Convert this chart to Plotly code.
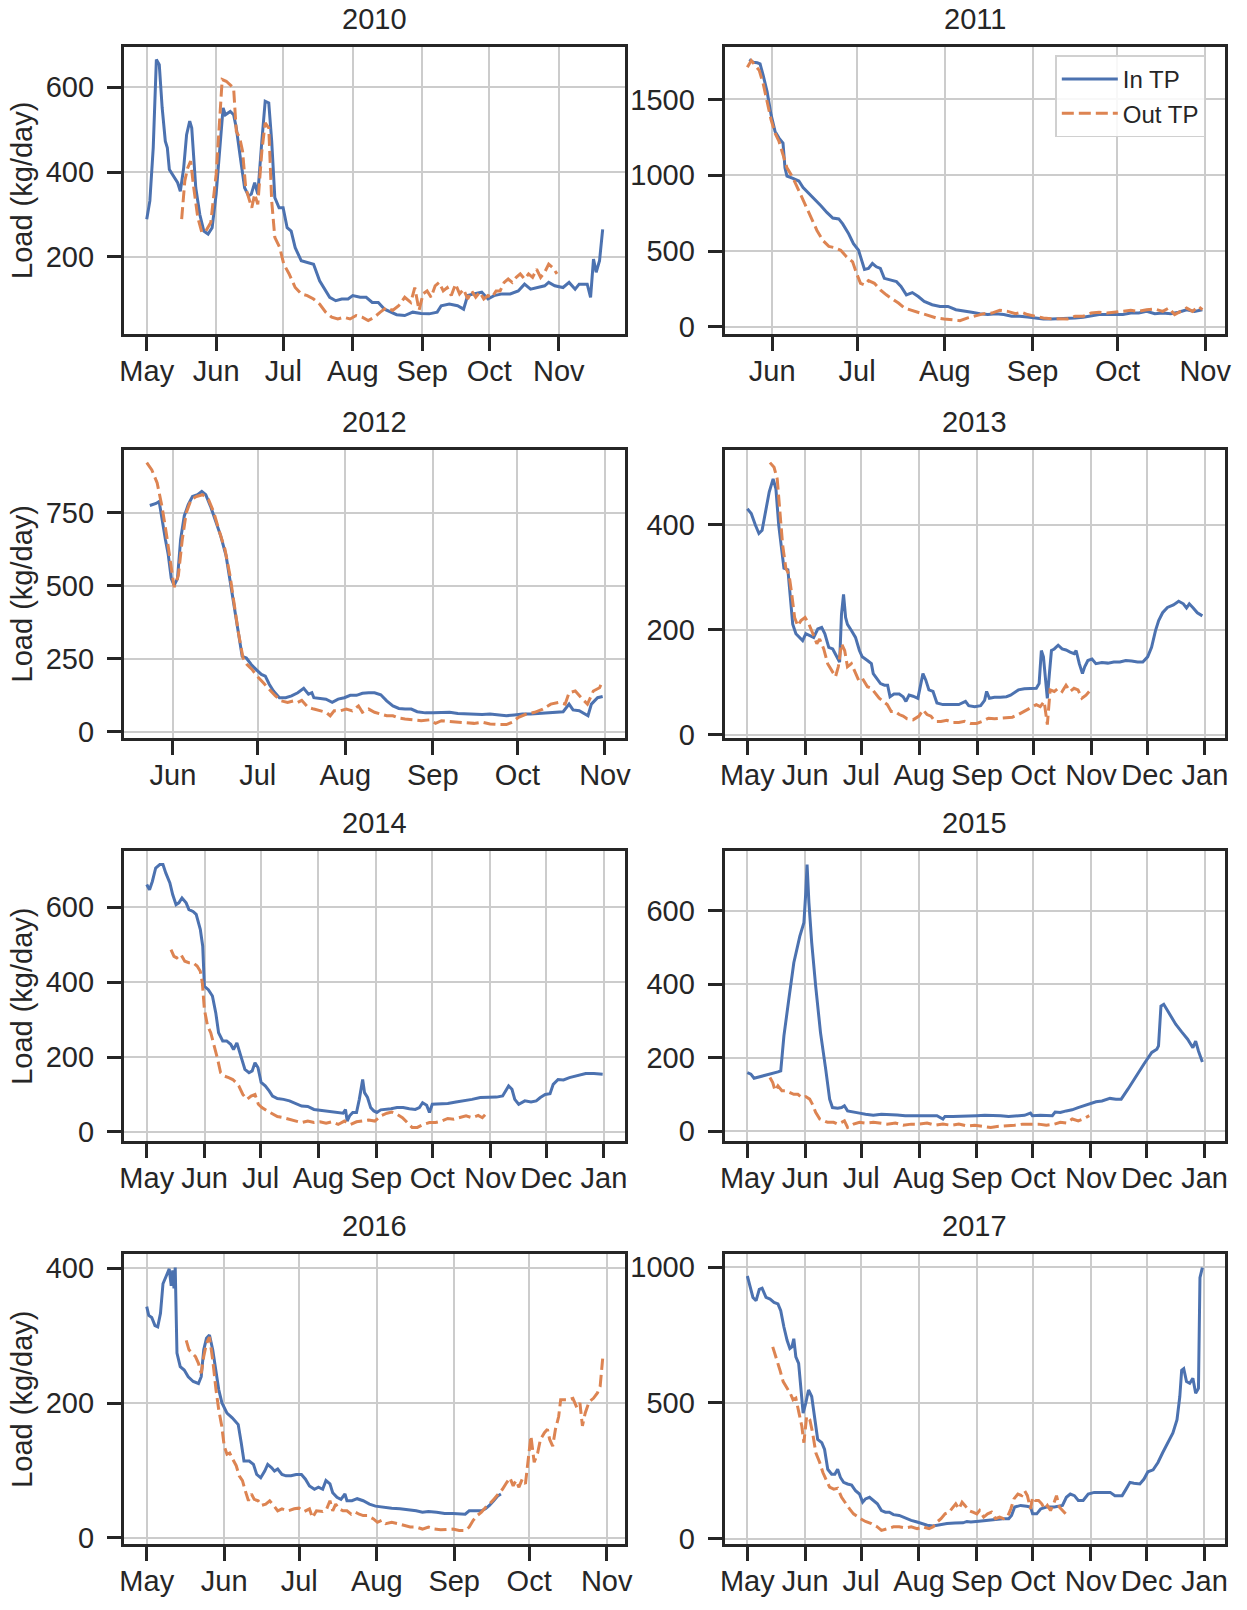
import pandas as pd
import plotly.graph_objects as go

# ---------------- data: (days since May 1, load kg/day) ----------------
in_2010 = [(0,289),(1.4,332),(2.9,457),(4.3,665),(5.6,653),(6.9,551),(8.3,473),(9.2,457),(10.1,406),(12,391),
           (13.8,375),(15,355),(16.5,410),(17.8,488),(19.2,520),(20.1,504),(21.9,363),(23.7,300),(25.5,261),(27.4,254),
           (29.2,269),(31,348),(32.8,473),(34.1,551),(35.1,535),(37.3,543),(38.8,535),(40,504),(41.8,434),(43.7,363),
           (45.5,344),(46.7,348),(48.2,375),(49.6,348),(51.4,473),(52.9,567),(54.5,563),(55.8,473),(57.2,340),(59.1,316),
           (60.9,316),(62.7,269),(64.5,261),(66.3,222),(69,191),(71.7,187),(74.5,183),(77.2,144),(79.9,120),(81.7,105),
           (84.4,97),(87.1,101),(89.9,101),(92,109),(95.3,105),(98,105),(100.7,93),(103.4,93),(106.2,77),(108.9,70),
           (111.6,64),(115.2,62),(118.8,70),(122.5,67),(126.1,66),(129.7,70),(131.5,85),(135.1,89),(138.8,85),(141.5,77),
           (143.3,109),(146,113),(149.6,117),(152.4,101),(155.1,109),(158.7,113),(162.3,113),(165.9,120),(168.7,136),(171.4,124),
           (175,128),(177.7,132),(179.5,140),(182.2,132),(185.9,128),(188.6,140),(191.3,124),(193.1,136),(196.7,136),(198.2,105),
           (199.5,195),(200.7,164),(202.2,191),(203.6,265)]
out_2010 = [(15.6,289),(17,379),(18.3,410),(19.6,426),(21,363),(22.8,293),(24.6,258),(26.4,261),(28.6,281),(31,395),
            (32.8,543),(33.7,618),(35.5,614),(37.3,606),(38.8,598),(40,496),(41.5,481),(42.8,449),(44.2,363),(45.5,340),
            (46.9,316),(48.2,348),(49.6,324),(51.4,449),(52.9,516),(54.5,504),(55.8,332),(57.2,246),(59.4,222),(61.2,183),
            (63.6,160),(66.3,128),(69,113),(71.7,109),(74.5,101),(77.2,89),(79.9,70),(82.6,58),(85.3,54),(88,58),
            (90.8,54),(93.5,62),(96.2,58),(98.9,50),(101.6,58),(104.3,70),(107.1,81),(109.8,74),(112.5,85),(115.2,105),
            (117.9,93),(119.7,128),(121.6,74),(123.4,113),(125.2,120),(127,105),(128.8,132),(130.6,140),(132.4,120),(134.2,128),
            (136,109),(137.9,136),(139.7,113),(141.5,124),(143.3,101),(145.1,120),(146.9,105),(148.7,117),(150.5,101),(152.4,109),
            (154.2,105),(156,120),(157.8,120),(159.6,140),(161.4,148),(163.2,140),(165,152),(166.8,160),(168.7,148),(170.5,160),
            (172.3,152),(174.1,171),(175.9,152),(177.7,164),(179.5,183),(181.3,175),(183.2,160)]

in_2011 = [(22.9,1763),(24.3,1746),(25.7,1742),(26.7,1735),(27.8,1659),(29.2,1550),(30.6,1398),(32,1289),(33.4,1245),(34.8,1213),
           (35.5,1049),(36.2,995),(38.3,980),(40.4,962),(41.9,919),(44,880),(46.1,843),(48.2,799),(50.3,755),(52.4,718),
           (54.5,712),(55.9,679),(58,614),(59.7,549),(61.5,505),(62.5,440),(63.6,379),(65,385),(66.4,418),(67.8,396),
           (69.2,385),(70.6,320),(72.8,309),(74.9,298),(76.5,266),(78.4,211),(80.5,226),(82.6,200),(84.7,168),(87.5,146),
           (90.3,135),(93.1,135),(95.9,113),(98.7,102),(101.5,96),(104.4,87),(107.2,81),(110,87),(112.8,81),(115.6,70),
           (118.4,70),(121.2,65),(124,59),(126.8,52),(129.6,52),(132.4,54),(135.3,54),(138,59),(140.9,63),(143.7,74),
           (146.5,81),(149.3,81),(152.1,81),(154.9,81),(157.7,91),(160.5,91),(163.3,102),(166.2,87),(169,91),(171.8,87),
           (174.6,96),(177.4,113),(180.2,102),(183,113)]
out_2011 = [(22.2,1713),(23.6,1757),(25,1724),(26.4,1692),(27.8,1604),(29.2,1485),(30.6,1365),(32,1278),(33.4,1223),(34.8,1136),
            (36.2,1049),(38.3,984),(40.4,897),(42.6,810),(44.7,723),(46.8,636),(48.9,570),(51,531),(53.1,522),(55.2,505),
            (57.3,461),(59.4,429),(60.8,353),(62.2,287),(63.6,276),(65,305),(67.1,287),(69.2,244),(71.3,211),(73.5,183),
            (75.6,157),(77.7,124),(80.5,107),(83.3,91),(86.1,74),(88.9,59),(91.7,52),(94.5,48),(97.3,41),(100.1,59),
            (102.9,74),(105.8,87),(108.6,91),(111.4,109),(114.2,102),(117,87),(119.1,96),(121.2,81),(124,70),(126.8,59),
            (129.6,54),(132.4,54),(135.3,52),(138,70),(140.9,70),(143.7,91),(146.5,96),(149.3,91),(152.1,98),(154.9,102),
            (157.7,109),(160.5,102),(163.3,113),(166.2,118),(169,102),(171.1,124),(173.2,81),(175.3,102),(177.4,124),(179.5,102),
            (181.6,135),(183,113)]

in_2012 = [(22.8,775),(25,782),(26.1,789),(27.1,727),(28.3,659),(29.3,608),(30.4,524),(31.4,501),(32.6,524),(33.7,659),
           (35,739),(36.4,778),(37.9,806),(39.7,812),(41.2,823),(42.6,812),(44.3,772),(46.1,722),(47.9,671),(49.8,603),
           (51.2,518),(52.7,433),(54.1,343),(55.5,258),(57,252),(58.7,230),(60.4,213),(62.3,196),(63.7,190),(65.1,162),
           (66.6,139),(68.7,116),(70.9,116),(73,122),(75.2,133),(77.3,148),(79,128),(80.2,133),(80.9,116),(83.1,114),
           (85.2,111),(87.4,100),(89.5,111),(91.7,116),(93.8,124),(96,124),(98.1,131),(100.3,133),(102.4,133),(104.6,126),
           (106.7,105),(108.9,88),(111,79),(113.2,77),(115.4,77),(117.5,68),(120.4,64),(123.2,64),(126.1,64),(129,66),
           (131.9,62),(134.7,60),(137.6,60),(140.5,58),(143.3,60),(146.2,57),(149.1,54),(151.9,57),(154.8,60),(157.7,60),
           (160.5,62),(163.4,64),(166.3,64),(169.2,68),(171.3,94),(172.7,74),(174.9,71),(177,60),(178,54),(179.2,94),
           (181.4,116),(183.2,120)]
out_2012 = [(21.7,922),(23.5,897),(25.4,852),(27.1,772),(28.6,682),(30,580),(31.4,495),(32.9,535),(34.3,659),(35.7,750),
            (37.4,795),(39.3,806),(41.5,812),(43.6,795),(45.5,750),(47.2,693),(49.4,625),(51.2,535),(52.7,433),(54.1,343),
            (55.8,252),(57.2,230),(59,213),(60.8,190),(63,167),(65.1,145),(67.3,122),(69.4,105),(71.6,100),(73.7,105),
            (75.2,100),(76.6,107),(78.8,83),(80.9,77),(83.1,71),(85.2,66),(86.7,54),(88.1,71),(90.2,71),(92.4,77),
            (94.5,71),(96.7,88),(98.1,66),(100.3,77),(102.4,66),(104.6,60),(106.7,54),(108.9,54),(111,46),(113.2,43),
            (116.1,40),(118.9,37),(121.8,40),(124,28),(126.1,37),(129,35),(131.9,32),(134.7,32),(137.6,28),(140.5,32),
            (143.3,26),(146.2,24),(149.1,24),(151.2,32),(153.4,49),(156.2,60),(159.1,66),(162,77),(164.8,94),(167.7,100),
            (169.9,94),(171.3,133),(173.5,139),(175.6,116),(177.8,94),(179.9,139),(182.1,150),(183.2,173)]

in_2013 = [(0,430),(2.1,421),(4.3,399),(6.2,383),(7.9,389),(9.6,424),(11.7,462),(13.8,487),(15.3,468),(16.8,399),
           (18.5,349),(19.6,317),(21.7,314),(23.2,261),(24.3,210),(26,192),(28.1,185),(29.6,179),(31.3,192),(33.4,188),
           (35.5,185),(37.7,201),(39.8,204),(41.5,192),(43.6,166),(45.7,163),(47.9,148),(49.4,138),(50.4,229),(51.5,267),
           (52.6,223),(53.6,210),(55.7,198),(57.9,185),(60,160),(61.5,148),(64.3,141),(66.4,135),(67.4,116),(69.1,107),
           (71.3,97),(73.4,94),(75.1,94),(76.4,72),(78.5,77),(81.3,77),(83.4,72),(84.9,63),(86.6,75),(88.7,73),
           (91.3,69),(94,116),(95.5,104),(97.2,85),(99.4,82),(101.5,60),(104.7,57),(108.9,57),(113.2,57),(116.8,63),
           (118.5,55),(121.7,53),(124.9,55),(127,65),(128.1,82),(129.6,69),(132.3,71),(135.5,71),(138.7,72),(140.9,75),
           (143,80),(145.1,85),(148.3,87),(151.5,87),(154.7,88),(156.2,97),(157.4,160),(158.5,148),(159.8,97),(160.6,69),
           (161.7,116),(162.8,160),(164.3,163),(166.4,170),(168.5,163),(170.6,161),(172.8,157),(174.9,154),(176,160),(177.7,135),
           (179.4,116),(180.6,129),(182.3,141),(184.5,144),(186.6,135),(189.8,137),(193,136),(196.2,138),(199.4,138),(202.6,141),
           (205.7,140),(208.9,138),(211.7,138),(214.3,148),(216.4,166),(218.5,198),(220.2,217),(222.3,232),(224.9,242),(228.1,247),
           (230.9,254),(233.4,249),(235.1,241),(236.6,249),(238.7,241),(240.9,232),(243.6,226)]
out_2013 = [(12.1,518),(14.3,509),(16,487),(17.4,418),(18.9,361),(20.6,317),(22.3,305),(23.8,267),(25.3,223),(27,207),
            (28.7,217),(30.9,223),(33,210),(35.1,192),(37.2,173),(38.7,182),(40.9,163),(43,135),(45.1,122),(47.2,110),
            (48.7,129),(50.4,173),(52.1,160),(53.6,129),(55.7,135),(57.9,116),(60,100),(62.1,104),(64.3,91),(66.4,88),
            (68.5,79),(70.6,69),(72.8,63),(74.9,57),(77,44),(79.1,44),(81.3,38),(83.4,35),(85.5,30),(88.7,28),
            (91.9,35),(94,47),(96.2,38),(98.3,35),(100.4,25),(103.6,25),(106.8,27),(110,23),(113.2,23),(116.4,25),
            (119.6,21),(122.8,21),(125.7,25),(129.1,31),(132.3,30),(135.5,31),(138.7,31),(141.9,33),(145.1,38),(148.3,44),
            (151.5,50),(154.7,57),(156.8,53),(158.9,63),(160.6,19),(162.1,85),(164.3,82),(166.4,88),(168.5,82),(170.6,94),
            (172.8,82),(174.9,88),(177,85),(179.1,69),(181.3,75),(183,82)]

in_2014 = [(0,661),(1.5,647),(3,669),(4.8,705),(7,714),(8.7,714),(10.2,692),(12.4,665),(13.9,634),(15.7,607),
           (17.2,612),(18.9,625),(21.1,612),(22.6,594),(24.8,589),(26.5,581),(28.7,541),(30,496),(30.9,389),(33,380),
           (35.2,363),(37,318),(38.5,265),(40.7,243),(42.8,243),(45,234),(46.5,220),(48.3,238),(50.4,203),(52.6,167),
           (54.8,158),(56.5,163),(58,185),(59.6,172),(61.3,132),(63.5,123),(65.7,109),(67.4,96),(70,89),(73.3,87),
           (76.5,83),(79.8,76),(83,69),(86.3,68),(89.6,60),(92.8,58),(96.1,56),(99.3,53),(102.6,53),(105.2,50),
           (106.5,60),(107.4,29),(108.7,43),(110.4,52),(112.4,52),(113.9,87),(115.7,140),(116.7,105),(118.3,92),(120,65),
           (121.7,56),(123.3,52),(125.4,59),(128.3,60),(130.9,62),(134.1,65),(137.4,65),(140.7,62),(143.9,60),(146.1,65),
           (147.8,78),(150,71),(151.5,52),(153,74),(157,74),(161.3,76),(165.7,80),(170,83),(174.3,87),(178.7,92),
           (183,92),(187.4,93),(190.7,96),(192.2,109),(193.9,123),(195.7,114),(197.2,87),(199.3,74),(202.6,83),(205.9,80),
           (208.7,83),(210.9,92),(213.5,100),(216.1,102),(217.8,127),(220.4,140),(223.3,139),(226.5,145),(230.9,151),(235.2,156),
           (239.6,156),(244.3,154)]
out_2014 = [(13,487),(14.6,469),(16.1,465),(18.3,474),(20.4,456),(22.6,452),(24.8,452),(27,443),(28.7,429),(29.8,398),
            (30.9,327),(32.6,283),(34.3,265),(36.3,229),(38,194),(39.6,158),(41.7,149),(43.9,145),(46.1,140),(47.8,132),
            (49.3,123),(51.5,100),(53.7,87),(55.9,96),(58,100),(59.8,74),(61.7,65),(64.6,56),(67.4,47),(70,41),
            (73.3,38),(76.5,34),(79.8,29),(83,25),(86.3,29),(89.6,25),(92.8,27),(96.1,23),(99.3,27),(102.6,20),
            (105.9,29),(109.1,20),(112.4,27),(115.7,29),(118.9,32),(122.2,29),(125.4,43),(128.7,50),(131.3,53),(134.1,47),
            (137,38),(139.6,25),(142.2,12),(145,12),(148.3,20),(151.5,25),(154.8,25),(158,29),(161.3,36),(164.6,34),
            (167.8,38),(171.1,43),(174.3,38),(177.6,44),(179.8,38),(182.4,52)]

in_2015 = [(0,159),(1.9,155),(3.6,144),(6.8,148),(10,152),(13.2,157),(16.4,161),(17.9,164),(19.6,259),(22.2,358),
           (24.9,458),(28.1,530),(30.3,567),(31.3,648),(32,725),(33,621),(34.5,512),(36.6,395),(39.2,268),(42,168),
           (44.1,87),(45.6,64),(48.4,62),(50.5,64),(52,69),(53.7,55),(56.9,51),(60.1,49),(63.3,46),(67.5,43),
           (71.8,46),(76.1,46),(80.3,44),(84.6,42),(88.8,42),(93.1,42),(97.4,42),(101.6,42),(104.8,33),(105.9,40),
           (110.1,40),(114.4,40),(118.7,42),(122.9,42),(127.2,43),(131.4,43),(135.7,42),(140,40),(144.2,42),(148.5,43),
           (151.7,49),(152.7,42),(157,43),(160.2,43),(163.4,42),(164.9,52),(167.7,51),(170.9,55),(174,58),(177.2,64),
           (180.4,69),(183.6,73),(186.8,80),(190,82),(194.3,89),(197.5,87),(200.3,87),(203.9,114),(208.2,150),(212.4,182),
           (216.7,214),(219.4,223),(220.3,232),(221.6,340),(223.1,345),(226.3,318),(229.5,291),(232.7,270),(235.9,250),(238.7,227),
           (240.2,245),(241.7,218),(243.8,188)]
out_2015 = [(12.1,146),(13.6,132),(14.9,110),(16.4,123),(18.5,110),(20.7,110),(22.8,105),(24.9,100),(27.1,100),(29.2,91),
            (31.3,94),(33.4,87),(34.9,73),(36.6,51),(38.8,33),(40.9,28),(43,24),(46.2,24),(48.4,19),(50.5,24),
            (52,28),(53.7,10),(56.9,19),(60.1,24),(63.3,22),(67.5,24),(70.7,22),(75,19),(79.3,22),(83.5,16),
            (87.8,19),(92,19),(96.3,22),(100.6,16),(104.8,19),(109.1,16),(113.3,19),(117.6,14),(121.9,16),(126.1,13),
            (130.4,10),(134.7,13),(138.9,14),(143.2,16),(147.4,19),(151.7,19),(156,19),(160.2,16),(164.5,19),(167.7,24),
            (170.9,22),(174.1,33),(177.3,28),(180.4,34),(183.2,42)]

in_2016 = [(0,343),(0.8,330),(2,327),(3.3,315),(4.4,313),(5.5,333),(6.5,377),(7.7,389),(9,399),(9.8,374),
           (10.4,397),(10.9,370),(11.4,401),(12.1,274),(13.4,254),(15,249),(16.6,239),(18.6,232),(20.7,229),(21.8,239),
           (22.8,279),(23.9,296),(25.1,301),(26.4,279),(27.7,244),(28.8,220),(30.1,200),(32.1,185),(34.2,178),(36.6,168),
           (37.8,141),(38.9,114),(41,114),(42.7,109),(44,94),(45.6,89),(47.2,99),(48.4,109),(50,104),(51.1,99),
           (52.4,102),(54.1,94),(55.7,92),(57.7,92),(59.8,94),(61.9,94),(63.5,87),(65.1,77),(67.1,72),(68.7,75),
           (70.4,72),(71.7,85),(73.3,80),(74.4,67),(76.1,60),(77.7,57),(79.3,65),(80.1,55),(82.1,55),(84.2,58),
           (86.6,55),(89.1,50),(91.5,47),(94.8,45),(98,44),(101.3,43),(104.6,42),(107.8,40),(110.3,38),(112.7,39),
           (116,38),(119.2,36),(122.5,36),(125.7,35),(127.4,35),(129,40),(131.4,40),(133.9,40),(135.5,43),(137.1,48),
           (138.8,55),(140.4,62),(141.7,65)]
out_2016 = [(15.8,293),(16.9,279),(18.2,274),(19.5,269),(20.7,259),(21.8,244),(22.8,269),(23.9,288),(25.1,298),(26.4,264),
            (27.7,220),(28.8,190),(30,166),(31,136),(32.1,124),(33.2,126),(34.5,116),(35.8,107),(37,92),(38.3,85),
            (39.4,70),(40.7,55),(41.9,65),(43,57),(44.6,55),(45.9,48),(47.6,50),(49.2,55),(50.8,48),(52.4,40),
            (54.1,43),(56.5,40),(59,43),(60.9,44),(63,39),(65.1,43),(66.3,30),(67.9,40),(70.4,39),(72,43),
            (73.3,55),(74.4,40),(75.6,50),(76.9,43),(78.5,40),(80.1,40),(81.8,35),(83.4,38),(85,35),(86.6,33),
            (88.3,33),(90.7,28),(92.3,23),(94,26),(95.6,21),(98,23),(100.5,21),(102.9,18),(105.4,16),(107.8,16),
            (110.3,13),(112.7,16),(115.1,13),(117.6,12),(120,12),(122.5,13),(125,11),(127.4,11),(129,16),(130.6,26),
            (132.2,33),(133.9,38),(135.5,45),(137.1,50),(138.8,57),(140.7,65),(142.3,72),(144,82),(145.3,89),(146.6,77),
            (147.7,85),(148.9,75),(150.2,87),(151.5,80),(152.6,116),(153.7,151),(155,112),(156.4,126),(157.5,146),(159.1,156),
            (160.3,161),(161.2,146),(162.4,136),(163.5,161),(164.8,180),(165.6,205),(167.3,205),(168.9,205),(170.5,207),(172.1,193),
            (173.3,200),(174.3,166),(175.4,185),(177,202),(178.7,207),(180.3,215),(181.4,225),(182.4,266)]

in_2017 = [(0,967),(1.5,931),(3,888),(4.7,876),(6.4,918),(7.9,922),(10,888),(12.2,882),(14.3,870),(16.4,864),
           (17.9,839),(19.6,779),(21.3,730),(22.8,700),(23.9,706),(24.9,736),(26,669),(27.5,645),(28.6,560),(29.9,462),
           (31.3,499),(32.8,547),(34.5,523),(36,450),(37.7,365),(39.9,353),(41.4,328),(43.1,255),(45.2,237),(46.9,237),
           (48.4,255),(49.9,225),(51.6,207),(53.7,201),(55.9,197),(58,176),(60.1,164),(61.8,134),(63.3,146),(65.5,152),
           (67.6,140),(69.7,128),(71.9,103),(74,97),(76.1,97),(78.3,88),(81.4,85),(84.6,75),(87.8,67),(91,61),
           (93.2,55),(96.4,49),(99.6,46),(102.8,51),(107,55),(111.3,57),(115.6,58),(117.7,63),(119.8,61),(124.1,64),
           (128.4,67),(132.6,71),(136.9,73),(140.1,73),(141.6,85),(143.3,116),(146.5,122),(149.7,119),(151.8,116),(152.9,91),
           (155.1,91),(157.2,109),(160.3,116),(164.6,116),(168.9,122),(171,152),(173.1,164),(175.3,158),(177.4,140),(180,140),
           (182.7,164),(185.9,170),(190.2,170),(194.5,170),(197,158),(200.9,158),(203,182),(205.1,207),(207.2,204),(210.4,201),
           (212.6,219),(214.7,246),(217.5,253),(220.1,280),(222.6,316),(225.4,353),(228.1,389),(230.3,438),(231.8,523),(232.8,620),
           (233.9,626),(235.4,578),(237.1,572),(238.8,590),(240.3,535),(241.8,553),(242.6,961),(243.9,998)]
out_2017 = [(13.6,706),(15.4,669),(17.5,620),(19.2,578),(21.3,553),(23,535),(24.5,511),(26,517),(27.7,462),(29.2,414),
            (30.3,353),(31.8,450),(33.5,438),(35,389),(36.7,316),(38.8,280),(40.5,243),(42,219),(44.1,189),(46.3,182),
            (48.4,185),(50.5,152),(52.7,128),(54.8,109),(56.9,91),(59.1,79),(61.2,71),(63.3,63),(66.5,55),(69.7,43),
            (71.9,30),(75.1,36),(78.3,43),(81.4,43),(84.6,39),(87.8,43),(91,36),(94.2,43),(97.4,36),(99.6,43),
            (101.7,61),(103.8,73),(106,91),(108.1,97),(110.2,116),(111.7,128),(113.4,109),(115.1,134),(116.6,122),(118.8,103),
            (120.9,97),(123,91),(124.5,103),(126.7,79),(128.8,91),(130.9,97),(133,73),(135.2,79),(137.3,73),(139.4,79),
            (141.2,109),(142.9,146),(145,164),(147.1,158),(148.6,176),(150.1,158),(151.8,109),(152.9,152),(154.4,140),(156.1,140),
            (157.8,128),(159.3,109),(160.8,122),(162.5,103),(164.2,128),(165.7,158),(167.2,116),(168.9,103),(170.6,91)]

years = [2010, 2011, 2012, 2013, 2014, 2015, 2016, 2017]
in_series = [in_2010, in_2011, in_2012, in_2013, in_2014, in_2015, in_2016, in_2017]
out_series = [out_2010, out_2011, out_2012, out_2013, out_2014, out_2015, out_2016, out_2017]
y_ticks = [[0, 200, 400, 600], [0, 500, 1000, 1500], [0, 250, 500, 750], [0, 200, 400],
           [0, 200, 400, 600], [0, 200, 400, 600], [0, 200, 400], [0, 500, 1000]]
series_names = ["In TP", "Out TP"]
y_label = "Load (kg/day)"

# ---------------- layout geometry (px) ----------------
W, H = 1247, 1610
col_px = [(121, 627), (727, 1232)]
row_px = [(44, 334), (451, 742), (857, 1149), (1264, 1556)]
TXT = "#262626"
FONT = "Liberation Sans, Arial, sans-serif"
BLUE = "#4C72B0"
ORANGE = "#DD8452"
LW = 3


def to_dates(year, pts):
    base = pd.Timestamp(f"{year}-05-01")
    return [base + pd.Timedelta(days=d) for d, _ in pts], [v for _, v in pts]


fig = go.Figure()
annotations = []
for i, yr in enumerate(years):
    r, c = divmod(i, 2)
    suffix = "" if i == 0 else str(i + 1)
    xa, ya = "x" + suffix, "y" + suffix
    xi, vi = to_dates(yr, in_series[i])
    xo, vo = to_dates(yr, out_series[i])
    show = (yr == 2011)
    fig.add_trace(go.Scatter(x=xi, y=vi, mode="lines", name=series_names[0],
                             line=dict(color=BLUE, width=LW), xaxis=xa, yaxis=ya,
                             showlegend=show))
    fig.add_trace(go.Scatter(x=xo, y=vo, mode="lines", name=series_names[1],
                             line=dict(color=ORANGE, width=LW, dash="12px,5px"), xaxis=xa, yaxis=ya,
                             showlegend=show))
    # matplotlib-style 5% margins
    alld = xi + xo
    lo, hi = min(alld), max(alld)
    pad = (hi - lo) * 0.05
    allv = vi + vo
    vlo, vhi = min(allv), max(allv)
    vpad = (vhi - vlo) * 0.05
    x0, x1 = col_px[c]
    t, b = row_px[r]
    common = dict(showline=True, mirror=True, linewidth=3, linecolor=TXT,
                  ticks="outside", ticklen=14, tickwidth=3, tickcolor=TXT,
                  showgrid=True, gridcolor="#cccccc", gridwidth=2, zeroline=False,
                  tickfont=dict(size=29, color=TXT, family=FONT))
    fig.layout["xaxis" + suffix] = dict(
        common, domain=[x0 / W, x1 / W], anchor=ya, type="date",
        range=[(lo - pad).strftime("%Y-%m-%d %H:%M:%S"), (hi + pad).strftime("%Y-%m-%d %H:%M:%S")],
        dtick="M1", tick0=f"{yr}-05-01", tickformat="%b", ticklabelstandoff=-4)
    fig.layout["yaxis" + suffix] = dict(
        common, domain=[1 - b / H, 1 - t / H], anchor=xa,
        range=[vlo - vpad, vhi + vpad], tickmode="array", tickvals=y_ticks[i],
        ticktext=[str(v) for v in y_ticks[i]], ticklabelstandoff=7)
    annotations.append(dict(text=str(yr), x=(x0 + x1) / 2 / W, y=1 - t / H, xref="paper", yref="paper",
                            xanchor="center", yanchor="middle", yshift=28, showarrow=False,
                            font=dict(size=29, color=TXT, family=FONT)))
    if c == 0:
        annotations.append(dict(text=y_label, x=18 / W, y=1 - (t + b) / 2 / H, xref="paper", yref="paper",
                                xanchor="center", yanchor="middle", textangle=-90, showarrow=False,
                                font=dict(size=29, color=TXT, family=FONT)))

fig.update_layout(
    width=W, height=H, autosize=False,
    margin=dict(l=0, r=0, t=0, b=0),
    paper_bgcolor="white", plot_bgcolor="white",
    font=dict(family=FONT, color=TXT),
    annotations=annotations,
    legend=dict(x=1212 / W, y=1 - 53 / H, xanchor="right", yanchor="top", itemwidth=56,
                bgcolor="rgba(255,255,255,0.85)", bordercolor="#d0d0d0", borderwidth=1.5,
                font=dict(size=24, color=TXT, family=FONT)),
)

fig.write_html("out.html")
